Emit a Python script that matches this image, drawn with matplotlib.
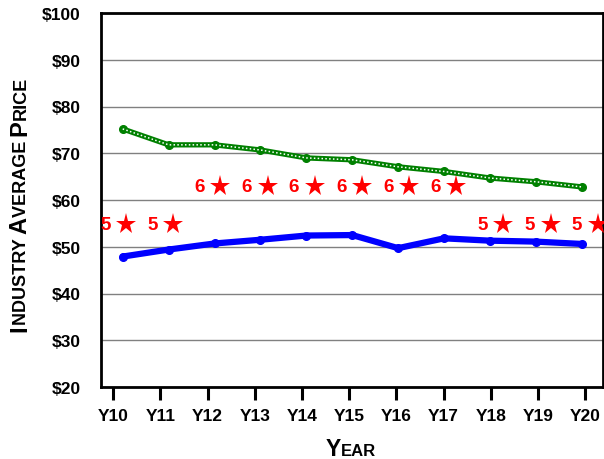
import numpy as np
import matplotlib
matplotlib.use('Agg')
import matplotlib.pyplot as plt

years = ['Y10', 'Y11', 'Y12', 'Y13', 'Y14', 'Y15', 'Y16', 'Y17', 'Y18', 'Y19', 'Y20']
green_price = [75.2, 71.8, 71.8, 70.7, 69.0, 68.6, 67.1, 66.1, 64.7, 63.9, 62.8]
blue_price = [47.9, 49.4, 50.7, 51.5, 52.4, 52.5, 49.7, 51.8, 51.3, 51.1, 50.6]
star_labels = ['5', '5', '6', '6', '6', '6', '6', '6', '5', '5', '5']
star_price = [54.8, 54.8, 62.9, 62.9, 62.9, 62.9, 62.9, 62.9, 54.8, 54.8, 54.8]
y_ticks = [20, 30, 40, 50, 60, 70, 80, 90, 100]

plt.rcParams['font.family'] = 'Liberation Sans'

W, H = 604, 460
fig = plt.figure(figsize=(W / 100, H / 100), dpi=100)
ax = fig.add_axes([101 / W, (H - 388) / H, 502 / W, 374 / H])

tick_x = np.arange(len(years))
point_x = np.linspace(0.2, 9.93, len(years))   # line points sit a bit off the ticks
star_x = tick_x + 0.27

ax.plot(point_x, green_price, color='#008000', lw=3.8, marker='o', ms=5.5,
        solid_capstyle='round', zorder=3)
ax.plot(point_x, green_price, color='white', lw=1.1, ls=(0, (1, 1.5)), zorder=4)
ax.plot(point_x, blue_price, color='#0000ff', lw=4.5, marker='o', ms=5.5,
        solid_capstyle='round', zorder=3)

ax.plot(star_x, star_price, ls='none', marker='*', ms=15.5, color='#ff0000',
        markeredgewidth=0, zorder=5)
for sx, sy, lab in zip(star_x, star_price, star_labels):
    ax.text(sx - 0.44, sy, lab, color='#ff0000', fontsize=13.5, fontweight='bold',
            ha='center', va='center', clip_on=True, zorder=5)

ax.set_xlim(-0.26, 10.38)
ax.set_ylim(20, 100)
ax.set_xticks(tick_x)
ax.set_xticklabels(years, fontsize=12.5, fontweight='bold')
ax.set_yticks(y_ticks)
ax.set_yticklabels(['$%d' % v for v in y_ticks], fontsize=12.5, fontweight='bold')
ax.tick_params(axis='y', length=0, pad=14.5)
ax.tick_params(axis='x', length=9.5, width=2.2, pad=5.5, direction='out')
ax.yaxis.grid(True, color='#808080', lw=1.0)
ax.set_axisbelow(True)
for side in ['left', 'bottom', 'top', 'right']:
    ax.spines[side].set_linewidth(2)
    ax.spines[side].set_color('black')


def small_caps(parts, x, y, rotation=0, center=False):
    texts = [fig.text(0, 0, s, fontsize=fs, fontweight='bold', ha='left', va='baseline')
             for s, fs in parts]
    fig.canvas.draw()
    r = fig.canvas.get_renderer()
    widths = [t.get_window_extent(r).width for t in texts]
    start = (x - sum(widths) / 2) if center else y
    pos = start
    for t, w in zip(texts, widths):
        if rotation:
            t.set_position((x / W, pos / H))
            t.set_rotation(90)
            t.set_rotation_mode('anchor')
        else:
            t.set_position((pos / W, y / H))
        pos += w


small_caps([('Y', 16.5), ('EAR', 12)], 351, 3.5, center=True)
small_caps([('I', 17), ('NDUSTRY ', 13), ('A', 17), ('VERAGE ', 13),
            ('P', 17), ('RICE', 13)], 26, 128, rotation=90)

fig.savefig('out.png', dpi=100)
